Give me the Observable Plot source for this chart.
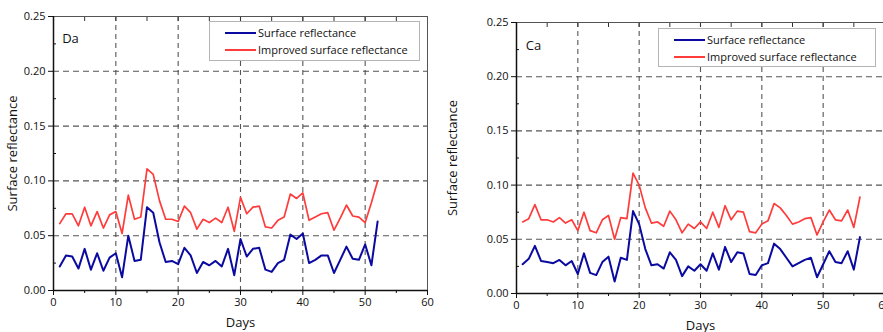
<!DOCTYPE html>
<html>
<head>
<meta charset="utf-8">
<script src="https://cdn.jsdelivr.net/npm/d3@7"></script>
<script src="https://cdn.jsdelivr.net/npm/@observablehq/plot@0.6"></script>
<style>
  html, body { margin: 0; padding: 0; background: #fff; overflow: hidden; }
  #wrap { display: flex; width: 890px; height: 332px; }
  .panel { position: relative; }
  .legend { position: absolute; border: 1px solid #b5b5b5; background: #fff; font-family: "Open Sans", sans-serif; font-size: 11px; color: #111; }
  .legend .row { position: absolute; white-space: nowrap; display: flex; align-items: center; }
  .legend .sw { display: inline-block; width: 31px; margin-right: 2px; }
</style>
</head>
<body>
<div id="wrap"></div>
<script>
// ---- Data ----
const panelNames = ["Da", "Ca"];
const seriesNames = ["Surface reflectance", "Improved surface reflectance"];
const seriesColors = ["#0a0aa0", "#ff3c3c"];
const xTicks = [0, 10, 20, 30, 40, 50, 60];
const yTicks = [0, 0.05, 0.10, 0.15, 0.20, 0.25];

const daSurface = [0.022,0.032,0.031,0.020,0.038,0.019,0.034,0.018,0.030,0.034,
  0.012,0.050,0.027,0.028,0.076,0.071,0.044,0.026,0.027,0.024,
  0.039,0.032,0.016,0.026,0.023,0.027,0.022,0.038,0.014,0.047,
  0.031,0.038,0.039,0.019,0.017,0.025,0.028,0.051,0.047,0.052,
  0.025,0.028,0.032,0.032,0.016,0.028,0.040,0.029,0.028,0.042,
  0.023,0.063];
const daImproved = [0.061,0.070,0.070,0.059,0.076,0.059,0.072,0.057,0.069,0.072,
  0.052,0.087,0.065,0.067,0.111,0.106,0.082,0.065,0.065,0.063,
  0.077,0.071,0.056,0.065,0.062,0.066,0.062,0.076,0.054,0.085,
  0.070,0.076,0.077,0.058,0.057,0.064,0.067,0.088,0.084,0.089,
  0.064,0.067,0.070,0.071,0.055,0.066,0.078,0.068,0.067,0.062,
  0.080,0.100];
const caSurface = [0.027,0.032,0.044,0.030,0.029,0.028,0.031,0.026,0.030,0.018,
  0.037,0.019,0.017,0.029,0.034,0.011,0.033,0.031,0.076,0.064,
  0.041,0.026,0.027,0.023,0.038,0.031,0.016,0.025,0.021,0.027,
  0.021,0.037,0.022,0.043,0.029,0.038,0.037,0.018,0.017,0.026,
  0.028,0.046,0.041,0.033,0.025,0.028,0.031,0.033,0.015,0.027,
  0.039,0.029,0.028,0.039,0.022,0.052];
const caImproved = [0.066,0.069,0.082,0.068,0.068,0.066,0.070,0.065,0.068,0.058,
  0.075,0.058,0.056,0.068,0.072,0.050,0.070,0.069,0.111,0.100,
  0.079,0.065,0.066,0.062,0.076,0.068,0.056,0.064,0.060,0.066,
  0.060,0.075,0.061,0.081,0.068,0.076,0.075,0.057,0.056,0.064,
  0.067,0.083,0.079,0.072,0.064,0.066,0.069,0.070,0.054,0.066,
  0.077,0.068,0.067,0.077,0.061,0.089];

const panels = [
  {name: panelNames[0], series: [daSurface, daImproved], width: 440,
   m: {l: 53, r: 13, t: 16, b: 42}, legend: {left: 209, top: 21, w: 209, h: 38}, lab: {dx: 17, dy: 17}},
  {name: panelNames[1], series: [caSurface, caImproved], width: 446,
   m: {l: 76, r: 2, t: 22, b: 39}, legend: {left: 218, top: 28, w: 216, h: 37}, lab: {dx: 17, dy: 18}}
];

function toRows(values, key) {
  return values.map((v, i) => ({day: i + 1, value: v, series: key}));
}

const wrap = document.getElementById("wrap");
const font = "'Open Sans', sans-serif";

for (const p of panels) {
  const div = document.createElement("div");
  div.className = "panel";
  div.style.width = p.width + "px";
  const rows0 = toRows(p.series[0], seriesNames[0]);
  const rows1 = toRows(p.series[1], seriesNames[1]);
  const chart = Plot.plot({
    width: p.width, height: 332,
    marginLeft: p.m.l, marginRight: p.m.r, marginTop: p.m.t, marginBottom: p.m.b,
    style: {fontFamily: font, fontSize: "11px", color: "#111", background: "transparent", overflow: "visible"},
    x: {domain: [0, 60]},
    y: {domain: [0, 0.25]},
    marks: [
      Plot.gridX([10, 20, 30, 40, 50], {stroke: "#444", strokeOpacity: 0.9, strokeDasharray: "5,4", strokeWidth: 1.1}),
      Plot.gridY([0.05, 0.10, 0.15, 0.20], {stroke: "#444", strokeOpacity: 0.9, strokeDasharray: "6,4", strokeWidth: 1.1}),
      Plot.line(rows1, {x: "day", y: "value", stroke: seriesColors[1], strokeWidth: 1.7}),
      Plot.line(rows0, {x: "day", y: "value", stroke: seriesColors[0], strokeWidth: 2}),
      Plot.frame({stroke: "#555", strokeWidth: 1}),
      Plot.ruleX([0], {stroke: "#111", strokeWidth: 1.5}),
      Plot.ruleY([0], {stroke: "#111", strokeWidth: 1.5}),
      Plot.axisX(xTicks, {tickSize: 5, tickPadding: 3, stroke: "#111", label: "Days", labelAnchor: "center", labelArrow: "none", labelOffset: 36, fontSize: 11}),
      Plot.axisX([5, 15, 25, 35, 45, 55], {tickSize: 3, text: null, stroke: "#111", label: null}),
      Plot.axisX([5, 10, 15, 20, 25, 30, 35, 40, 45, 50, 55], {anchor: "top", tickSize: -4, text: null, stroke: "#333", label: null}),
      Plot.axisY(yTicks, {tickSize: 5, tickPadding: 3, stroke: "#111", tickFormat: d3.format(".2f"), label: "Surface reflectance", labelAnchor: "center", labelArrow: "none", labelOffset: p.m.l - 7, fontSize: 11}),
      Plot.axisY([0.025, 0.075, 0.125, 0.175, 0.225], {tickSize: -3, text: null, stroke: "#111", label: null}),
      Plot.text([p.name], {frameAnchor: "top-left", dx: p.lab.dx, dy: p.lab.dy, text: d => d, fontSize: 13, fill: "#111", textAnchor: "middle"})
    ]
  });
  chart.querySelectorAll("g[aria-label='x-axis label'] text, g[aria-label='y-axis label'] text").forEach(t => t.setAttribute("font-size", "13"));
  div.appendChild(chart);

  const lg = document.createElement("div");
  lg.className = "legend";
  Object.assign(lg.style, {left: p.legend.left + "px", top: p.legend.top + "px", width: p.legend.w + "px", height: p.legend.h + "px"});
  seriesNames.forEach((nm, i) => {
    const r = document.createElement("div");
    r.className = "row";
    r.style.left = "15px";
    r.style.top = (i === 0 ? 3 : 20) + "px";
    const sw = document.createElement("span");
    sw.className = "sw";
    sw.style.borderTop = (i === 0 ? 2.4 : 2) + "px solid " + seriesColors[i];
    r.appendChild(sw);
    const t = document.createElement("span");
    t.textContent = nm;
    r.appendChild(t);
    lg.appendChild(r);
  });
  div.appendChild(lg);
  wrap.appendChild(div);
}
</script>
</body>
</html>
